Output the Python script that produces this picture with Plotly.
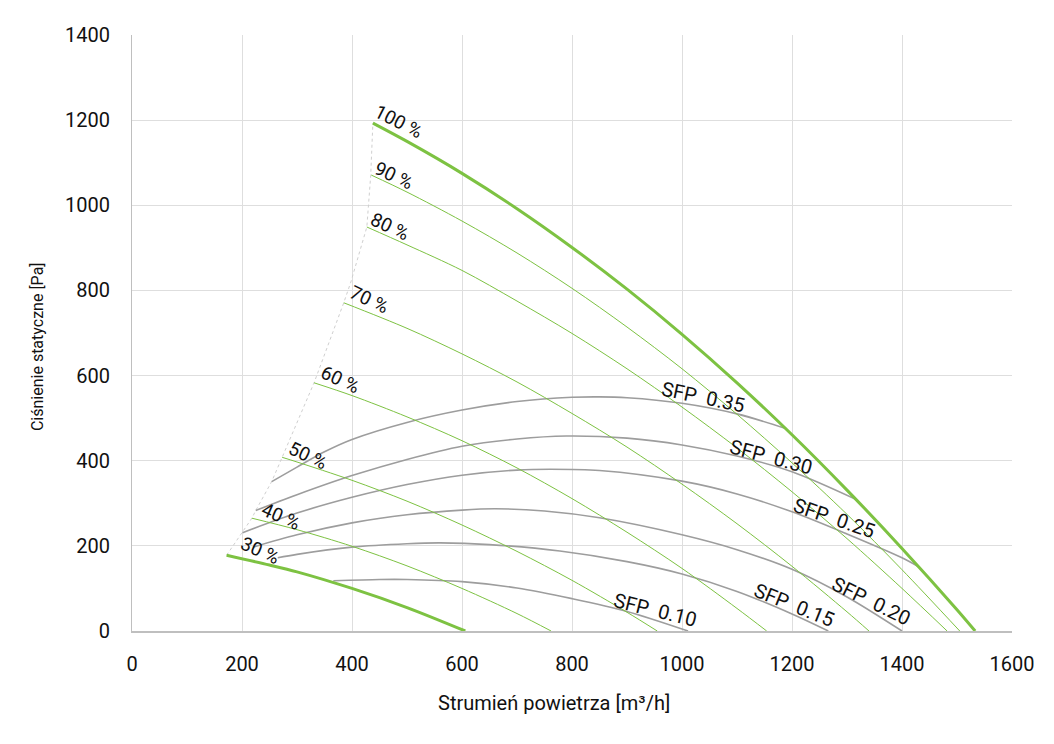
import plotly.graph_objects as go

# ---- fan speed curves (Q [m3/h], p [Pa]) ----
speed_labels = ["100 %", "90 %", "80 %", "70 %", "60 %", "50 %", "40 %", "30 %"]
q100 = [438, 500, 600, 700, 800, 900, 1000, 1100, 1200, 1300, 1400, 1500, 1533]
p100 = [1193, 1150, 1075, 992, 901, 803, 697, 583, 461, 331, 194, 50, 0]
q90 = [435, 500, 600, 700, 800, 900, 1000, 1100, 1200, 1300, 1400, 1505]
p90 = [1071, 1031, 963, 888, 805, 714, 616, 509, 395, 274, 144, 0]
q80 = [427, 500, 600, 700, 800, 900, 1000, 1100, 1200, 1300, 1400, 1482]
p80 = [949, 907, 847, 775, 699, 616, 526, 430, 327, 217, 100, 0]
q70 = [385, 500, 600, 700, 800, 900, 1000, 1100, 1200, 1300, 1340]
p70 = [771, 711, 651, 585, 511, 432, 345, 252, 152, 45, 0]
q60 = [331, 400, 500, 600, 700, 800, 900, 1000, 1100, 1154]
p60 = [583, 553, 503, 447, 383, 311, 232, 147, 53, 0]
q50 = [273, 300, 400, 500, 600, 700, 800, 900, 955]
p50 = [408, 397, 354, 305, 249, 187, 119, 44, 0]
q40 = [218, 300, 400, 500, 600, 700, 762]
p40 = [265, 238, 199, 153, 100, 41, 0]
q30 = [172, 250, 300, 400, 500, 606]
p30 = [178, 155, 139, 100, 55, 0]

# ---- SFP curves ----
sfp_labels = ["SFP\u00a0\u00a00.35", "SFP\u00a0\u00a00.30", "SFP\u00a0\u00a00.25",
              "SFP\u00a0\u00a00.20", "SFP\u00a0\u00a00.15", "SFP\u00a0\u00a00.10"]
qs35 = [254, 300, 350, 400, 500, 600, 700, 800, 850, 900, 1000, 1100, 1190]
ps35 = [351, 385, 421, 450, 490, 519, 539, 549, 550, 548, 535, 510, 475]
qs30 = [225, 300, 400, 500, 600, 700, 790, 900, 1000, 1100, 1200, 1318]
ps30 = [283, 320, 365, 403, 434, 451, 458, 453, 437, 411, 374, 308]
qs25 = [201, 300, 400, 500, 600, 700, 760, 850, 1000, 1100, 1200, 1300, 1400, 1430]
ps25 = [231, 277, 314, 344, 366, 378, 380, 377, 352, 322, 280, 228, 172, 151]
qs20 = [220, 300, 400, 500, 600, 660, 750, 850, 1000, 1100, 1200, 1300, 1400]
ps20 = [197, 226, 254, 273, 284, 287, 282, 266, 226, 191, 145, 80, 0]
qs15 = [265, 300, 400, 500, 560, 650, 778, 900, 1000, 1100, 1200, 1266]
ps15 = [172, 180, 197, 205, 207, 203, 188, 163, 134, 93, 40, 0]
qs10 = [366, 450, 500, 600, 700, 800, 900, 1011]
ps10 = [118, 121, 121, 116, 101, 76, 46, 0]

# ---- operating-range boundary ----
qb = [172, 201, 218, 225, 254, 273, 331, 385, 398, 427, 434, 438]
pb = [178, 231, 265, 283, 351, 408, 583, 771, 820, 949, 1070, 1193]

x_ticks = [0, 200, 400, 600, 800, 1000, 1200, 1400, 1600]
y_ticks = [0, 200, 400, 600, 800, 1000, 1200, 1400]
x_title = "Strumień powietrza [m³/h]"
y_title = "Ciśnienie statyczne [Pa]"

GREEN = "#7dc242"
GRAY = "#9d9d9d"
FONT = "Roboto"

fig = go.Figure()

fig.add_trace(go.Scatter(x=qb, y=pb, mode="lines",
                         line=dict(color="#cfcfcf", width=1, dash="dot"),
                         hoverinfo="skip"))

sfp_q = [qs35, qs30, qs25, qs20, qs15, qs10]
sfp_p = [ps35, ps30, ps25, ps20, ps15, ps10]
for q, p in zip(sfp_q, sfp_p):
    fig.add_trace(go.Scatter(x=q, y=p, mode="lines",
                             line=dict(color=GRAY, width=1.6, shape="spline", smoothing=0.9)))

fan_q = [q100, q90, q80, q70, q60, q50, q40, q30]
fan_p = [p100, p90, p80, p70, p60, p50, p40, p30]
for i, (q, p) in enumerate(zip(fan_q, fan_p)):
    w = 3 if i in (0, 7) else 1
    fig.add_trace(go.Scatter(x=q, y=p, mode="lines",
                             line=dict(color=GREEN, width=w, shape="spline", smoothing=0.9)))

# label placements (data coordinates) and angles
speed_pos = [(484, 1196, 27), (476, 1071, 25), (469, 951, 25), (431, 778, 25),
             (378, 590, 25), (320, 413, 25), (271, 270, 24), (233, 188, 24)]
sfp_pos = [(1038, 550, 12), (1162, 409, 15), (1276, 265, 19),
           (1344, 70, 26), (1204, 61, 22), (951, 49, 14)]

for txt, (x, y, a) in zip(speed_labels, speed_pos):
    fig.add_annotation(x=x, y=y, text=txt, showarrow=False, textangle=a,
                       font=dict(family=FONT, size=19, color="#111111"),
                       xanchor="center", yanchor="middle")
for txt, (x, y, a) in zip(sfp_labels, sfp_pos):
    fig.add_annotation(x=x, y=y, text=txt, showarrow=False, textangle=a,
                       font=dict(family=FONT, size=20, color="#111111"),
                       xanchor="center", yanchor="middle")

# axis titles
fig.add_annotation(xref="paper", yref="paper", x=0.4795, y=-0.121, text=x_title,
                   showarrow=False, xanchor="center", yanchor="middle",
                   font=dict(family=FONT, size=20, color="#111111"))
fig.add_annotation(xref="paper", yref="paper", x=-0.108, y=0.478, text=y_title,
                   showarrow=False, xanchor="center", yanchor="middle", textangle=-90,
                   font=dict(family=FONT, size=16, color="#111111"))

fig.update_layout(
    width=1054, height=744,
    margin=dict(l=124, r=50, t=27, b=121),
    paper_bgcolor="white", plot_bgcolor="white",
    showlegend=False,
    font=dict(family=FONT, color="#111111"),
)
fig.update_xaxes(range=[0, 1600], tickvals=x_ticks, showgrid=True, gridcolor="#dedede",
                 gridwidth=1, zeroline=False, showline=True, linecolor="#bfbfbf", linewidth=2,
                 ticks="", ticklabelstandoff=14, tickfont=dict(size=20, family=FONT),
                 automargin=False)
fig.update_yaxes(range=[0, 1400], tickvals=y_ticks, showgrid=True, gridcolor="#dedede",
                 gridwidth=1, zeroline=False, showline=True, linecolor="#bfbfbf", linewidth=1,
                 ticks="", ticklabelstandoff=17, tickfont=dict(size=20, family=FONT),
                 automargin=False)

fig.write_html("out.html")
